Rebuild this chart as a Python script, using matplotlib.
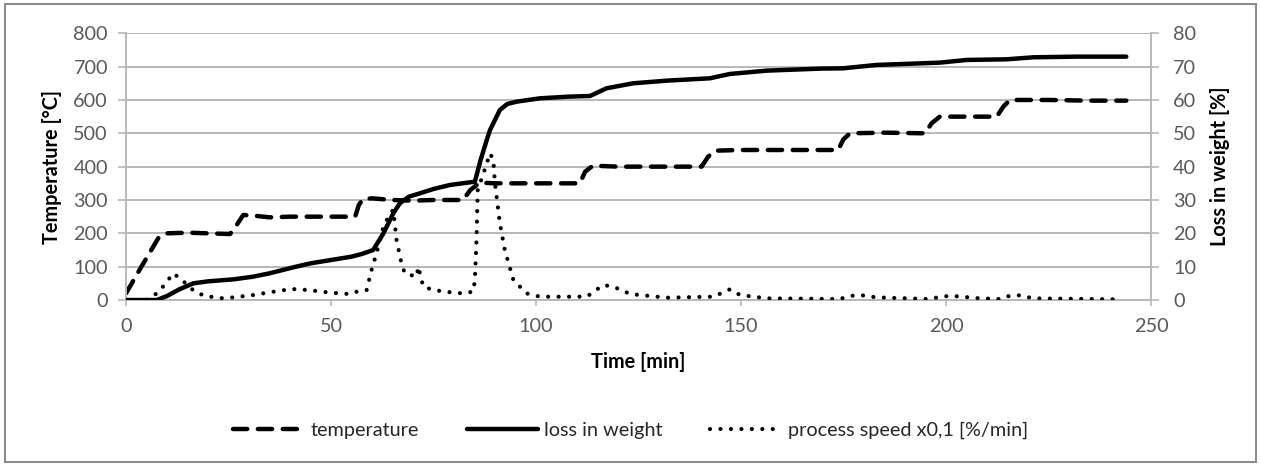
import matplotlib
matplotlib.use('Agg')
import matplotlib.pyplot as plt
from matplotlib.patches import Rectangle

plt.rcParams['font.family'] = ['Lato', 'DejaVu Sans']

# temperature [°C] vs time [min]
t_temp = [0, 4, 8.1, 10, 15, 20, 25.4, 27, 28.6, 32, 35, 40, 45, 50, 55.9, 56.8, 57.8, 60, 65, 70, 75,
          82.2, 84, 86.3, 90, 100, 110.7, 112, 113.9, 120, 130, 140.4, 142, 143.7, 150, 160, 173.7, 175,
          176.6, 185, 194.9, 196.5, 198.5, 205, 212.4, 214, 215.6, 225, 235, 244]
temp = [20, 105, 190, 200, 202, 200, 198, 225, 255, 252, 248, 250, 250, 250, 250, 285, 303, 305, 300, 298, 300,
        300, 330, 352, 350, 350, 350, 385, 403, 400, 400, 400, 430, 448, 450, 450, 450, 482,
        500, 502, 500, 530, 550, 550, 550, 580, 600, 600, 598, 598]

# loss in weight [%]
t_loss = [0, 7.5, 10, 13, 16.4, 20, 26.2, 31, 35, 40.8, 45, 50, 55, 57.5, 60.3, 62.8, 65.2, 66.8, 69, 71.7,
          75, 79, 85.1, 86.5, 88, 88.8, 91.2, 93, 95.3, 101, 108, 113.2, 117.2, 123.7, 131.9, 142.4, 147.3,
          156.3, 169.3, 174.9, 183, 198.5, 205, 214.8, 221.3, 232, 244]
loss = [0, 0, 1.2, 3.2, 5, 5.6, 6.2, 7, 8, 9.8, 11, 12, 13, 13.8, 15, 20, 26, 29, 31, 32,
        33.3, 34.5, 35.5, 42, 48, 51, 57, 58.8, 59.5, 60.5, 61, 61.2, 63.5, 65, 65.8, 66.5, 67.8,
        68.8, 69.4, 69.5, 70.5, 71.2, 72, 72.2, 72.8, 73, 73]

# process speed x0,1 [%/min]
t_speed = [0, 5, 7, 8.7, 10.3, 11.5, 13.2, 16.8, 19.3, 23.7, 26.2, 31, 36, 40.4, 44.5, 49.8, 54.6, 57, 58.7,
           59.9, 61.1, 62.8, 64.4, 65.2, 66, 67.2, 68, 70.9, 71.3, 72.5, 75, 79.8, 82.3, 84.7, 85.1, 85.5,
           85.8, 87.2, 88.8, 89.6, 90, 91.2, 92.4, 94.5, 97.7, 101, 112.4, 116.4, 118.9, 123, 131.9, 143.3,
           147.3, 149.8, 156.3, 174.1, 176.6, 179, 183, 195.3, 201, 208.3, 213.2, 215.6, 218, 221.3, 242.4]
speed = [0, 0, 1.5, 3.5, 6, 8, 6.5, 2.5, 1.2, 0.5, 0.8, 1.5, 2.5, 3.3, 3.0, 2.2, 1.8, 2.8, 3.0,
         9, 14, 22, 26, 27, 18, 11, 8, 7, 10, 4, 3, 2.2, 2.0, 2.5, 6, 18,
         33, 38, 44, 42, 35, 23, 15, 6, 2, 1, 1, 4.5, 4, 1.8, 0.7, 1,
         3.2, 1.5, 0.5, 0.3, 1.2, 1.5, 0.8, 0.3, 1.3, 0.5, 0.3, 1.3, 1.4, 0.5, 0.2]

grey = '#595959'
grid = '#b8b8b8'
fs = 14.3

fig = plt.figure(figsize=(12.61, 4.65), dpi=100)
fig.patches.append(Rectangle((0.004, 0.006), 0.992, 0.986, transform=fig.transFigure,
                             fill=False, edgecolor='#8c8c8c', linewidth=1.5))

ax = fig.add_axes([0.0999, 0.3548, 0.8128, 0.5736])
ax2 = ax.twinx()

l1, = ax.plot(t_temp, temp, color='black', lw=3.2, linestyle=(0, (3.2, 2.4)),
              dash_capstyle='round', label='temperature')
l2, = ax2.plot(t_loss, loss, color='black', lw=3.2, solid_capstyle='round',
               label='loss in weight')
l3, = ax2.plot(t_speed, speed, color='black', lw=3.0, linestyle=(0, (0.01, 2.5)),
               dash_capstyle='round', label='process speed x0,1 [%/min]')

ax.set_xlim(0, 250)
ax.set_ylim(0, 800)
ax2.set_ylim(0, 80)
ax.set_xticks(range(0, 251, 50))
ax.set_yticks(range(0, 801, 100))
ax2.set_yticks(range(0, 81, 10))

ax.grid(axis='y', color=grid, lw=1.4)
ax.set_axisbelow(True)

for a in (ax, ax2):
    a.spines['top'].set_visible(False)
    for s in ('left', 'right', 'bottom'):
        a.spines[s].set_color(grid)
        a.spines[s].set_linewidth(1.4)
    a.tick_params(colors=grid, labelcolor=grey, labelsize=fs, length=6, width=1.2)
ax2.spines['left'].set_visible(False)
ax.spines['right'].set_visible(False)
ax2.spines['bottom'].set_visible(False)
ax.tick_params(axis='x', length=4, pad=9)
ax.tick_params(axis='y', pad=7)
ax2.tick_params(axis='y', pad=10)

ax.set_xlabel('Time [min]', fontsize=fs, fontweight='bold', labelpad=12)
ax.set_ylabel('Temperature [°C]', fontsize=fs, fontweight='bold', labelpad=8)
ax2.set_ylabel('Loss in weight [%]', fontsize=fs, fontweight='bold', labelpad=10)

fig.legend(handles=[l1, l2, l3], loc='center', bbox_to_anchor=(0.5, 0.074), ncol=3,
           frameon=False, fontsize=fs, handlelength=3.6, columnspacing=2.4, handletextpad=0.3,
           labelcolor='#262626')

fig.savefig('out.png', dpi=100)
